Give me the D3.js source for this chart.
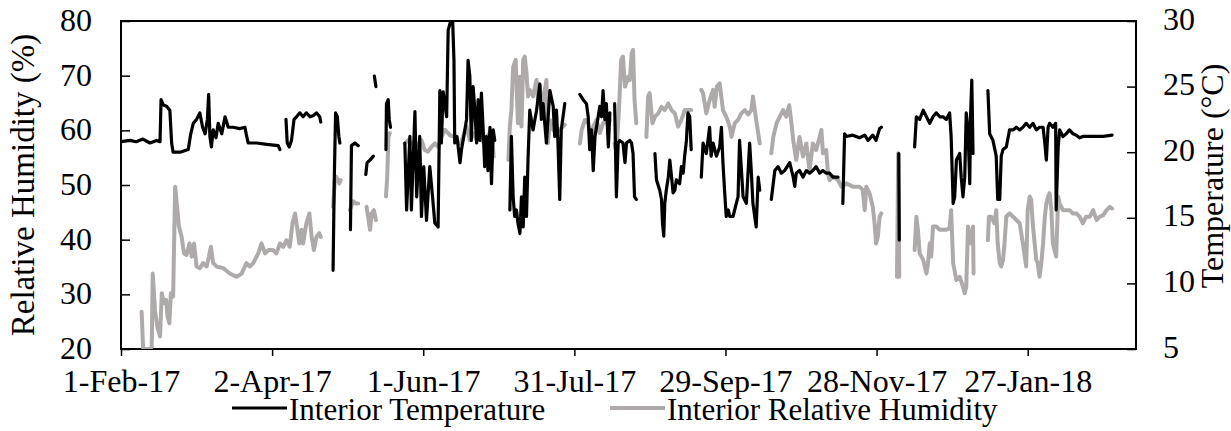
<!DOCTYPE html>
<html>
<head>
<meta charset="utf-8">
<script src="https://cdn.jsdelivr.net/npm/d3@7"></script>
<style>
body { margin: 0; background: #fff; }
</style>
</head>
<body>
<svg id="chart" width="1231" height="431"></svg>
<script>
// readings are [days since 1-Feb-17, value]; null marks a gap in logging
var startDate = new Date(2017, 1, 1);
var endDate = new Date(2018, 2, 11);
var tickDates = ["2017-02-01", "2017-04-02", "2017-06-01", "2017-07-31", "2017-09-29", "2017-11-28", "2018-01-27"];
var rhTicks = [20, 30, 40, 50, 60, 70, 80];
var tempTicks = [5, 10, 15, 20, 25, 30];
var seriesNames = ["Interior Temperature", "Interior Relative Humidity"];

var tempReadings = [
    [0,20.8],[3.6,20.9],[6.0,20.8],[8.7,21.0],[11.5,20.7],[14.1,20.9],[15.5,20.8],[15.9,24.0],[16.8,23.6],[18.1,23.5],
    [19.4,23.2],[20.1,20.7],[20.7,20.0],[23.4,20.0],[26.7,20.2],[27.7,21.4],[28.7,22.2],[30.0,22.5],[31.3,23.0],[32.4,21.9],
    [33.4,21.4],[34.3,22.5],[34.8,24.4],[35.3,21.2],[35.9,20.4],[36.6,21.7],[37.7,21.1],[38.6,22.2],[40.0,21.4],[41.3,22.7],
    [42.6,21.9],[44.5,21.9],[47.2,21.8],[49.2,21.9],[49.8,21.3],[50.5,20.7],[53.9,20.7],[57.8,20.6],[62.4,20.5],[63.1,20.2],
    null,
    [65.5,22.5],[66.0,20.7],[66.8,20.4],[67.7,20.9],[68.7,22.5],[69.7,22.7],[71.0,23.0],[72.3,22.7],[73.6,23.0],[75.1,22.7],
    [76.4,22.8],[77.6,23.0],[78.9,22.7],[79.3,22.3],
    null,
    [84.2,11.0],[84.7,18.1],[85.2,23.0],[85.9,22.7],[86.5,21.2],[86.9,20.7],
    null,
    [91.1,14.1],[91.5,20.5],[92.9,20.7],[94.2,20.5],
    null,
    [97.2,18.3],[97.7,19.2],[98.9,19.4],[100.2,19.7],
    null,
    [100.6,25.8],[101.2,25.0],
    null,
    [105.2,20.2],[105.4,23.7],[106.1,24.0],[106.5,22.5],[107.0,21.9],
    null,
    [112.7,20.7],[113.4,15.6],[114.7,21.2],[115.3,15.6],[116.7,23.1],[117.4,16.6],[118.6,21.2],[119.3,15.1],[120.2,18.9],[121.3,14.8],
    [122.6,18.9],[123.7,16.6],[124.6,14.6],[125.9,14.3],[126.6,24.7],[127.2,20.7],[127.9,24.6],[129.3,22.7],[129.9,29.3],[130.6,29.8],
    [131.6,30.5],[132.2,27.0],[132.5,20.7],[133.4,21.2],[134.6,19.2],[135.2,20.2],[136.1,21.2],[137.2,22.5],[137.8,27.0],[138.5,25.8],
    [139.1,20.9],[139.8,25.0],[140.5,23.2],[141.2,20.7],[141.8,24.0],[142.5,20.9],[143.1,24.5],[143.8,21.7],[144.4,18.9],[145.1,21.2],
    [145.7,18.6],[146.5,21.9],[147.1,17.6],[147.8,21.7],[148.4,20.9],
    null,
    [154.4,15.6],[155.0,21.2],[155.7,16.6],[156.3,15.1],[157.0,15.6],[157.6,14.6],[158.4,13.8],[159.0,16.6],[159.7,14.3],[160.3,18.1],
    [161.0,15.1],[161.6,19.4],[162.3,23.2],[163.6,21.7],[165.0,23.2],[166.3,25.2],[166.9,22.5],[167.6,23.7],[168.9,20.7],[170.3,24.7],
    [171.6,23.5],[172.2,21.2],[172.9,23.2],[173.5,20.7],[174.2,16.4],[174.8,21.7],[176.2,23.7],
    null,
    [182.2,24.4],[183.5,24.0],[184.8,23.7],[185.5,22.7],[186.1,20.2],[186.8,21.7],[187.5,18.6],[188.2,21.2],[188.8,21.9],[190.1,23.5],
    [190.8,22.7],[191.4,24.7],[192.1,22.5],[192.7,23.7],[193.5,20.4],[194.1,23.0],
    null,
    [196.0,23.7],[196.7,16.6],[197.4,20.7],[198.0,20.9],[199.3,20.7],[200.1,19.2],[200.7,20.7],[202.0,20.9],[202.7,20.7],[203.3,19.9],
    [203.9,16.6],[204.6,16.4],
    null,
    [212.0,19.9],[212.6,17.9],[213.9,17.1],[214.6,16.4],[215.0,14.6],[215.5,13.6],[215.9,16.1],[216.5,17.1],[217.3,18.1],[217.9,19.4],
    [218.6,18.1],[219.2,16.9],[219.9,17.1],[220.5,17.9],[221.8,17.6],[222.5,18.9],[223.2,18.4],[223.8,19.7],[224.5,20.9],[225.1,23.0],
    [225.8,22.7],[226.4,20.2],
    null,
    [230.4,18.1],[231.1,20.7],[232.4,19.9],[233.7,21.9],[234.3,19.7],[235.1,20.7],[236.4,19.7],[237.7,20.4],[238.4,21.9],[239.0,19.2],
    [239.7,16.9],[240.3,15.1],[241.1,15.6],[241.7,15.1],[243.0,15.1],[244.3,16.1],[245.0,16.6],[245.6,20.9],[247.0,16.6],[248.3,16.1],
    [249.6,20.7],[250.3,18.4],[250.9,16.1],[252.2,14.3],[253.0,18.1],[253.6,17.1],
    null,
    [258.2,16.4],[259.6,18.6],[260.9,18.9],[262.2,18.4],[263.5,18.6],[265.5,19.2],[266.9,18.1],[267.5,17.4],[268.1,18.4],[269.4,18.6],
    [270.8,18.1],[272.1,18.6],[273.4,18.4],[274.7,18.6],[276.0,18.9],[277.4,18.4],[278.7,18.6],[280.0,18.4],[281.3,18.4],[282.7,18.1],
    [284.7,18.1],
    null,
    [286.6,16.1],[287.3,21.4],[287.9,21.2],[290.6,21.3],[293.2,21.1],[295.3,21.3],[296.6,20.9],[298.5,21.3],[299.8,20.9],[301.2,21.8],
    [301.9,21.9],
    null,
    [308.8,19.9],[309.0,13.3],
    null,
    [315.1,20.4],[315.8,22.7],[317.1,22.5],[318.5,23.2],[319.8,22.7],[321.1,22.2],[322.4,22.7],[323.7,23.0],[325.1,22.7],[326.4,22.7],
    [327.7,22.5],[329.0,23.0],[329.6,21.2],[330.4,16.1],[331.0,16.6],[331.7,19.4],[333.0,19.9],[333.6,18.1],[334.3,16.6],[335.0,18.1],
    [335.6,23.0],[336.3,21.7],[337.0,17.6],[337.3,22.7],[337.8,25.5],[338.3,19.9],
    null,
    [344.2,24.7],[344.9,21.4],[346.2,20.9],[347.5,19.7],[348.1,16.4],[348.9,16.4],[349.5,19.7],[350.2,20.2],[351.5,20.4],[352.8,21.7],
    [354.2,21.7],[355.5,21.9],[356.8,21.7],[358.1,21.9],[359.4,22.2],[360.8,21.9],[362.1,22.2],[363.4,21.7],[364.7,21.9],[366.1,21.9],
    [366.8,20.7],[367.4,19.4],[368.1,21.9],[368.7,22.2],[370.0,21.9],[371.1,22.2],[371.3,15.6],[372.1,20.4],[372.7,21.7],[374.0,21.2],
    [375.3,21.4],[376.6,21.7],[378.0,21.4],[379.3,21.3],[380.6,21.1],[381.9,21.2],[384.7,21.2],[387.3,21.2],[390.0,21.2],[393.5,21.3]
];

var rhReadings = [
    [8.2,26.8],[8.8,20.0],[9.6,20.0],[11.5,20.0],[12.2,20.4],[12.6,33.8],[13.5,27.1],[14.4,24.1],[15.5,22.3],[16.2,30.2],
    [17.1,28.4],[17.9,29.0],[18.5,25.9],[19.2,24.7],[19.8,30.2],[20.7,29.6],[21.5,49.7],[22.4,45.4],[23.0,42.4],[24.1,40.5],
    [25.0,37.5],[26.0,37.2],[27.2,39.3],[28.1,36.9],[29.0,39.3],[30.0,35.1],[31.3,34.8],[32.6,35.7],[34.0,35.1],[34.9,36.9],
    [35.7,38.7],[36.6,35.7],[37.9,35.1],[40.6,34.8],[43.2,33.8],[45.9,33.2],[47.9,33.8],[49.8,35.7],[51.2,35.1],[52.5,35.7],
    [54.5,37.5],[55.8,39.3],[57.2,37.5],[58.5,38.1],[60.4,38.1],[61.7,37.5],[63.1,39.3],[64.4,38.7],[65.7,39.9],[67.0,38.7],
    [68.1,43.0],[69.1,44.8],[69.7,43.0],[70.8,39.3],[71.7,41.8],[72.3,39.3],[73.6,43.0],[74.8,44.8],[75.7,40.5],[76.6,38.1],
    [77.6,40.5],[78.7,41.2],[79.3,40.5],
    null,
    [84.2,46.0],[84.9,50.9],[85.5,51.5],[86.7,50.3],[87.2,50.9],
    null,
    [90.9,45.4],[92.2,47.0],[93.4,46.6],[94.2,46.6],
    null,
    [97.5,46.0],[98.1,44.2],[98.9,41.8],[99.5,44.8],[100.4,45.4],[101.2,43.6],
    null,
    [105.2,47.9],[105.7,51.5],[106.2,58.8],[106.7,59.5],
    null,
    [112.7,57.6],[114.0,58.2],[115.3,57.6],[116.7,57.9],[118.0,57.3],[119.3,58.2],[120.6,56.4],[121.9,56.1],[123.3,57.0],[124.6,57.6],
    [125.9,57.0],[127.2,58.8],[128.6,60.1],[129.9,59.5],[130.6,59.1],[132.5,58.8],
    null,
    [134.8,57.6],[135.8,58.8],[137.2,60.7],[138.5,58.2],[139.8,59.5],[141.2,58.2],[142.5,58.8],[143.8,57.9],[145.1,58.8],[146.5,59.5],
    [147.5,57.6],[148.0,55.2],
    null,
    [153.8,54.6],[154.4,60.7],[155.0,63.7],[155.7,71.6],[156.7,72.9],[157.6,61.3],[158.4,69.8],[159.0,60.7],[159.7,72.9],[160.3,73.5],
    [161.0,70.4],[161.6,66.2],[162.3,67.4],[163.6,66.2],[165.0,69.2],[165.6,65.5],[166.3,68.0],[166.9,63.7],[167.6,65.5],[168.9,69.2],
    [169.5,57.6],[170.3,61.9],[171.6,60.1],[172.9,59.5],[174.2,60.1],[176.2,61.0],
    null,
    [182.2,57.6],[182.9,60.1],[184.2,61.9],[185.5,61.3],[186.8,57.6],[187.5,60.7],[188.8,61.9],[190.1,59.5],[191.4,61.3],[192.7,61.9],
    [194.1,61.9],
    null,
    [196.0,57.6],[196.7,55.8],[197.7,63.7],[198.6,72.9],[199.3,73.5],[200.1,68.0],[201.4,69.8],[202.0,69.2],[202.8,74.1],[203.3,74.7],
    [203.9,65.5],[204.6,61.3],
    null,
    [208.6,58.8],[209.3,66.2],[209.9,66.8],[211.0,61.3],[212.0,62.5],[213.3,63.1],[214.6,64.3],[215.9,63.7],[217.3,64.9],[218.6,63.7],
    [219.9,63.1],[221.2,60.7],[222.5,61.9],[223.8,63.7],[225.1,63.7],[226.4,63.7],
    null,
    [230.4,67.4],[231.1,66.8],[232.4,63.1],[233.7,65.5],[235.1,67.4],[235.7,64.3],[236.6,68.0],[237.7,68.6],[239.0,63.7],[240.3,62.5],
    [241.7,60.7],[242.4,58.8],[243.7,61.3],[245.0,61.9],[246.3,63.1],[247.7,63.7],[249.0,62.9],[250.3,63.7],[250.9,66.2],[252.2,61.9],
    [253.6,57.6],
    null,
    [258.2,55.8],[259.0,58.8],[260.3,61.3],[261.6,62.5],[262.9,63.7],[264.1,62.5],[265.3,64.6],[266.2,61.3],[266.9,58.2],[268.1,54.6],
    [269.4,58.8],[270.8,55.2],[272.1,57.6],[273.4,52.7],[274.7,57.6],[276.0,56.4],[277.4,58.8],[278.1,60.1],[278.7,55.8],[280.0,56.4],
    [280.7,52.1],[281.3,50.9],[282.7,51.5],[284.7,50.9],[286.0,49.7],[286.6,49.7],[287.9,50.3],[290.6,49.7],[293.2,49.7],[294.5,49.1],
    [295.3,45.4],[295.9,49.7],[297.2,48.5],[298.5,46.0],[299.2,43.0],[299.8,39.3],[300.5,40.5],[301.2,44.2],[301.9,44.8],
    null,
    [308.1,33.2],[308.6,55.8],[309.0,33.2],
    null,
    [315.1,38.1],[315.8,44.2],[316.4,41.8],[317.1,37.5],[318.5,36.3],[319.8,33.8],[320.4,35.7],[321.1,39.3],[321.7,36.9],[322.4,42.4],
    [323.7,42.4],[325.1,41.8],[326.4,41.8],[327.7,41.8],[329.0,42.1],[329.6,45.4],[330.4,35.7],[331.7,32.6],[333.0,33.2],[334.3,31.4],
    [335.0,30.2],[335.6,31.4],[336.3,42.4],[337.0,40.5],[337.6,39.3],[338.3,42.4],[338.5,33.8],
    null,
    [344.2,39.9],[344.6,44.2],[345.5,44.2],[346.8,43.0],[347.5,45.4],[348.1,39.3],[348.9,35.7],[349.5,35.1],[350.2,36.3],[350.8,39.3],
    [351.5,44.2],[352.8,44.8],[354.2,44.2],[355.5,43.6],[356.8,43.0],[358.1,39.3],[359.4,35.1],[360.0,45.4],[360.8,47.9],[361.4,47.3],
    [362.1,42.4],[363.4,36.3],[364.0,35.7],[364.7,33.2],[365.4,35.7],[366.1,39.3],[366.8,44.2],[367.4,46.6],[368.1,47.9],[368.7,48.5],
    [369.4,45.4],[370.0,39.3],[371.3,36.9],[372.1,47.9],[372.7,46.6],[374.0,45.4],[375.3,45.4],[376.6,45.4],[378.0,44.8],[379.3,44.8],
    [380.6,44.2],[381.9,43.0],[383.2,44.2],[384.7,44.2],[386.0,45.4],[387.3,43.6],[388.6,44.2],[390.0,44.5],[391.3,45.4],[392.6,46.0],
    [393.5,45.7]
];

var TEMP_COLOR = "#000000",
    RH_COLOR = "#AEAAAA";

var FONT = "\"Liberation Serif\"";
var FONT_SIZE = 32;

var margin = { top: 21, right: 95, bottom: 82, left: 121 },
    width = 1231 - margin.left - margin.right,
    height = 431 - margin.top - margin.bottom;

var parseDay = d3.timeParse("%Y-%m-%d");
var fmt = d3.timeFormat("%-d-%b-%y");

function toDate(day) {
    return new Date(startDate.getTime() + day * 864e5);
}

var x = d3.scaleTime()
    .domain([startDate, endDate])
    .range([0, width]);

var yRH = d3.scaleLinear()
    .domain([20, 80])
    .range([height, 0]);

var yT = d3.scaleLinear()
    .domain([5, 30])
    .range([height, 0]);

var svg = d3.select("#chart");

svg.append("defs").append("clipPath")
    .attr("id", "plot-clip")
    .append("rect")
    .attr("width", width)
    .attr("height", height);

var g = svg.append("g")
    .attr("transform", "translate(" + margin.left + "," + margin.top + ")");

// axes
var xAxis = g.append("g")
    .attr("transform", "translate(0," + height + ")")
    .call(d3.axisBottom(x)
        .tickValues(tickDates.map(parseDay))
        .tickFormat(fmt)
        .tickSizeInner(7)
        .tickSizeOuter(0)
        .tickPadding(13));

var leftAxis = g.append("g")
    .call(d3.axisLeft(yRH)
        .tickValues(rhTicks)
        .tickSizeInner(-9)
        .tickSizeOuter(0)
        .tickPadding(29));

var rightAxis = g.append("g")
    .attr("transform", "translate(" + width + ",0)")
    .call(d3.axisRight(yT)
        .tickValues(tempTicks)
        .tickSizeInner(-9)
        .tickSizeOuter(0)
        .tickPadding(27));

[xAxis, leftAxis, rightAxis].forEach(function(a) {
    a.attr("font-family", null).attr("font-size", null);
    a.select(".domain").remove();
    a.selectAll(".tick line").attr("stroke", "#000").attr("stroke-width", 1.5);
    a.selectAll(".tick text")
        .style("font-family", FONT)
        .style("font-size", FONT_SIZE + "px")
        .attr("fill", "#000");
});
leftAxis.selectAll(".tick text").attr("dy", "0.3em");
rightAxis.selectAll(".tick text").attr("dy", "0.25em");

// plot frame
g.append("rect")
    .attr("width", width)
    .attr("height", height)
    .attr("fill", "none")
    .attr("stroke", "#000")
    .attr("stroke-width", 2);

// series lines
var plot = g.append("g").attr("clip-path", "url(#plot-clip)");

var tempLine = d3.line()
    .defined(function(d) { return d !== null; })
    .x(function(d) { return x(toDate(d[0])); })
    .y(function(d) { return yT(d[1]); });

var rhLine = d3.line()
    .defined(function(d) { return d !== null; })
    .x(function(d) { return x(toDate(d[0])); })
    .y(function(d) { return yRH(d[1]); });

plot.append("path")
    .datum(rhReadings)
    .attr("fill", "none")
    .attr("stroke", RH_COLOR)
    .attr("stroke-width", 4)
    .attr("stroke-linejoin", "round")
    .attr("stroke-linecap", "round")
    .attr("d", rhLine);

plot.append("path")
    .datum(tempReadings)
    .attr("fill", "none")
    .attr("stroke", TEMP_COLOR)
    .attr("stroke-width", 3.2)
    .attr("stroke-linejoin", "round")
    .attr("stroke-linecap", "round")
    .attr("d", tempLine);

// axis titles
svg.append("text")
    .attr("transform", "translate(34," + (margin.top + height / 2) + ") rotate(-90)")
    .attr("text-anchor", "middle")
    .style("font-family", FONT)
    .style("font-size", "33px")
    .text("Relative Humidity (%)");

svg.append("text")
    .attr("transform", "translate(1223,176) rotate(-90)")
    .attr("text-anchor", "middle")
    .style("font-family", FONT)
    .style("font-size", FONT_SIZE + "px")
    .text("Temperature (\u00B0C)");

// legend
var legend = svg.append("g").attr("transform", "translate(0,408)");
var legendItems = [
    { name: seriesNames[0], color: TEMP_COLOR, width: 3.2, x: 232 },
    { name: seriesNames[1], color: RH_COLOR, width: 4, x: 610 }
];

legendItems.forEach(function(item) {
    legend.append("line")
        .attr("x1", item.x)
        .attr("x2", item.x + 55)
        .attr("y1", 0)
        .attr("y2", 0)
        .attr("stroke", item.color)
        .attr("stroke-width", item.width);
    legend.append("text")
        .attr("x", item.x + 57)
        .attr("y", 12)
        .style("font-family", FONT)
        .style("font-size", "31px")
        .text(item.name);
});
</script>
</body>
</html>
